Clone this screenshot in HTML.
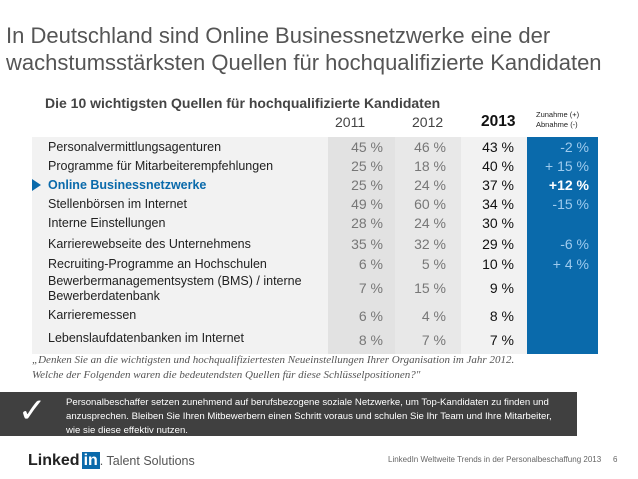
<!DOCTYPE html>
<html><head><meta charset="utf-8"><style>
body{margin:0;width:638px;height:479px;background:#fff;font-family:"Liberation Sans",sans-serif;position:relative;overflow:hidden}
div{position:absolute}
.t{left:6px;color:#555;font-size:22px;line-height:27px;top:22px;width:636px;white-space:nowrap}
.lbl{left:48px;font-size:12.5px;color:#222;white-space:nowrap}
.v{font-size:14px;color:#777;text-align:right;width:60px}
.v3{color:#111}
.vc{color:#9ecbee;text-align:right;width:70px;font-size:14px}
</style></head><body>
<div class="t">In Deutschland sind Online Businessnetzwerke eine der<br>wachstumsstärksten Quellen für hochqualifizierte Kandidaten</div>
<div style="left:45px;top:95px;font-size:14px;font-weight:bold;color:#444">Die 10 wichtigsten Quellen für hochqualifizierte Kandidaten</div>
<div style="left:32px;top:137px;width:296px;height:217px;background:#f2f2f2"></div>
<div style="left:328px;top:137px;width:67px;height:217px;background:#e2e2e2"></div>
<div style="left:395px;top:137px;width:66px;height:217px;background:#e8e8e8"></div>
<div style="left:461px;top:137px;width:66px;height:217px;background:#f2f2f2"></div>
<div style="left:527px;top:137px;width:71px;height:217px;background:#0a6aab"></div>
<div style="left:335px;top:114px;font-size:14px;color:#444">2011</div>
<div style="left:412px;top:114px;font-size:14px;color:#444">2012</div>
<div style="left:481px;top:113px;font-size:15.5px;font-weight:bold;color:#111">2013</div>
<div style="left:536px;top:110px;font-size:7.5px;color:#222;line-height:10px">Zunahme (+)<br>Abnahme (-)</div>
<div style="left:32px;top:179px;width:0;height:0;border-top:6px solid transparent;border-bottom:6px solid transparent;border-left:9px solid #0a6aab"></div>
<div id="rows"></div>
<div style="left:32px;top:353px;font-family:'Liberation Serif',serif;font-style:italic;font-size:11px;color:#555;line-height:15px">„Denken Sie an die wichtigsten und hochqualifiziertesten Neueinstellungen Ihrer Organisation im Jahr 2012.<br>Welche der Folgenden waren die bedeutendsten Quellen für diese Schlüsselpositionen?"</div>
<div style="left:0;top:392px;width:577px;height:44px;background:#404040"></div>
<div style="left:18px;top:391px;font-size:34px;color:#fff;font-family:'DejaVu Sans',sans-serif">✓</div>
<div style="left:66px;top:396px;width:510px;font-size:9.6px;color:#fff;line-height:14px">Personalbeschaffer setzen zunehmend auf berufsbezogene soziale Netzwerke, um Top-Kandidaten zu finden und<br>anzusprechen. Bleiben Sie Ihren Mitbewerbern einen Schritt voraus und schulen Sie Ihr Team und Ihre Mitarbeiter,<br>wie sie diese effektiv nutzen.</div>
<div style="left:28px;top:452px;font-size:16px;font-weight:bold;color:#222">Linked<span style="background:#0a6aab;color:#fff;padding:0 2px;margin-left:2px">in</span><span style="font-weight:normal;font-size:12.5px;color:#555">. Talent Solutions</span></div>
<div style="left:388px;top:455px;font-size:8px;color:#666">LinkedIn Weltweite Trends in der Personalbeschaffung 2013</div>
<div style="left:613px;top:455px;font-size:8px;color:#666">6</div>
<script>
const labels=["Personalvermittlungsagenturen","Programme für Mitarbeiterempfehlungen","Online Businessnetzwerke","Stellenbörsen im Internet","Interne Einstellungen","Karrierewebseite des Unternehmens","Recruiting-Programme an Hochschulen","Bewerbermanagementsystem (BMS) / interne<br>Bewerberdatenbank","Karrieremessen","Lebenslaufdatenbanken im Internet"];
const v2011=[45,25,25,49,28,35,6,7,6,8];
const v2012=[46,18,24,60,24,32,5,15,4,7];
const v2013=[43,40,37,34,30,29,10,9,8,7];
const change=["-2 %","+ 15 %","+12 %","-15 %","","-6 %","+ 4 %","","",""];
const rowY=[139,158,177,196,215,236,256,280,308,332];
const lblY=[140,159,178,197,216,237,257,274,308,331];
const root=document.getElementById('rows');
function mk(cls,left,top,html){const d=document.createElement('div');d.className=cls;d.style.left=left+'px';d.style.top=top+'px';d.innerHTML=html;root.appendChild(d);return d;}
labels.forEach((l,i)=>{
 const a=mk('lbl',48,lblY[i],l);
 
 
 if(i==2){a.style.color='#0a6aab';a.style.fontWeight='bold';}
 if(i==7)a.style.lineHeight='15px';
 const b=mk('v',323,rowY[i],v2011[i]+' %');
 
 
 const c=mk('v',386,rowY[i],v2012[i]+' %');
 
 
 const d=mk('v v3',454,rowY[i],v2013[i]+' %');
 
 
 const e=mk('vc',519,rowY[i],change[i]);
 
 
 if(i==2){e.style.color='#fff';e.style.fontWeight='bold';}
});
</script>
</body></html>
